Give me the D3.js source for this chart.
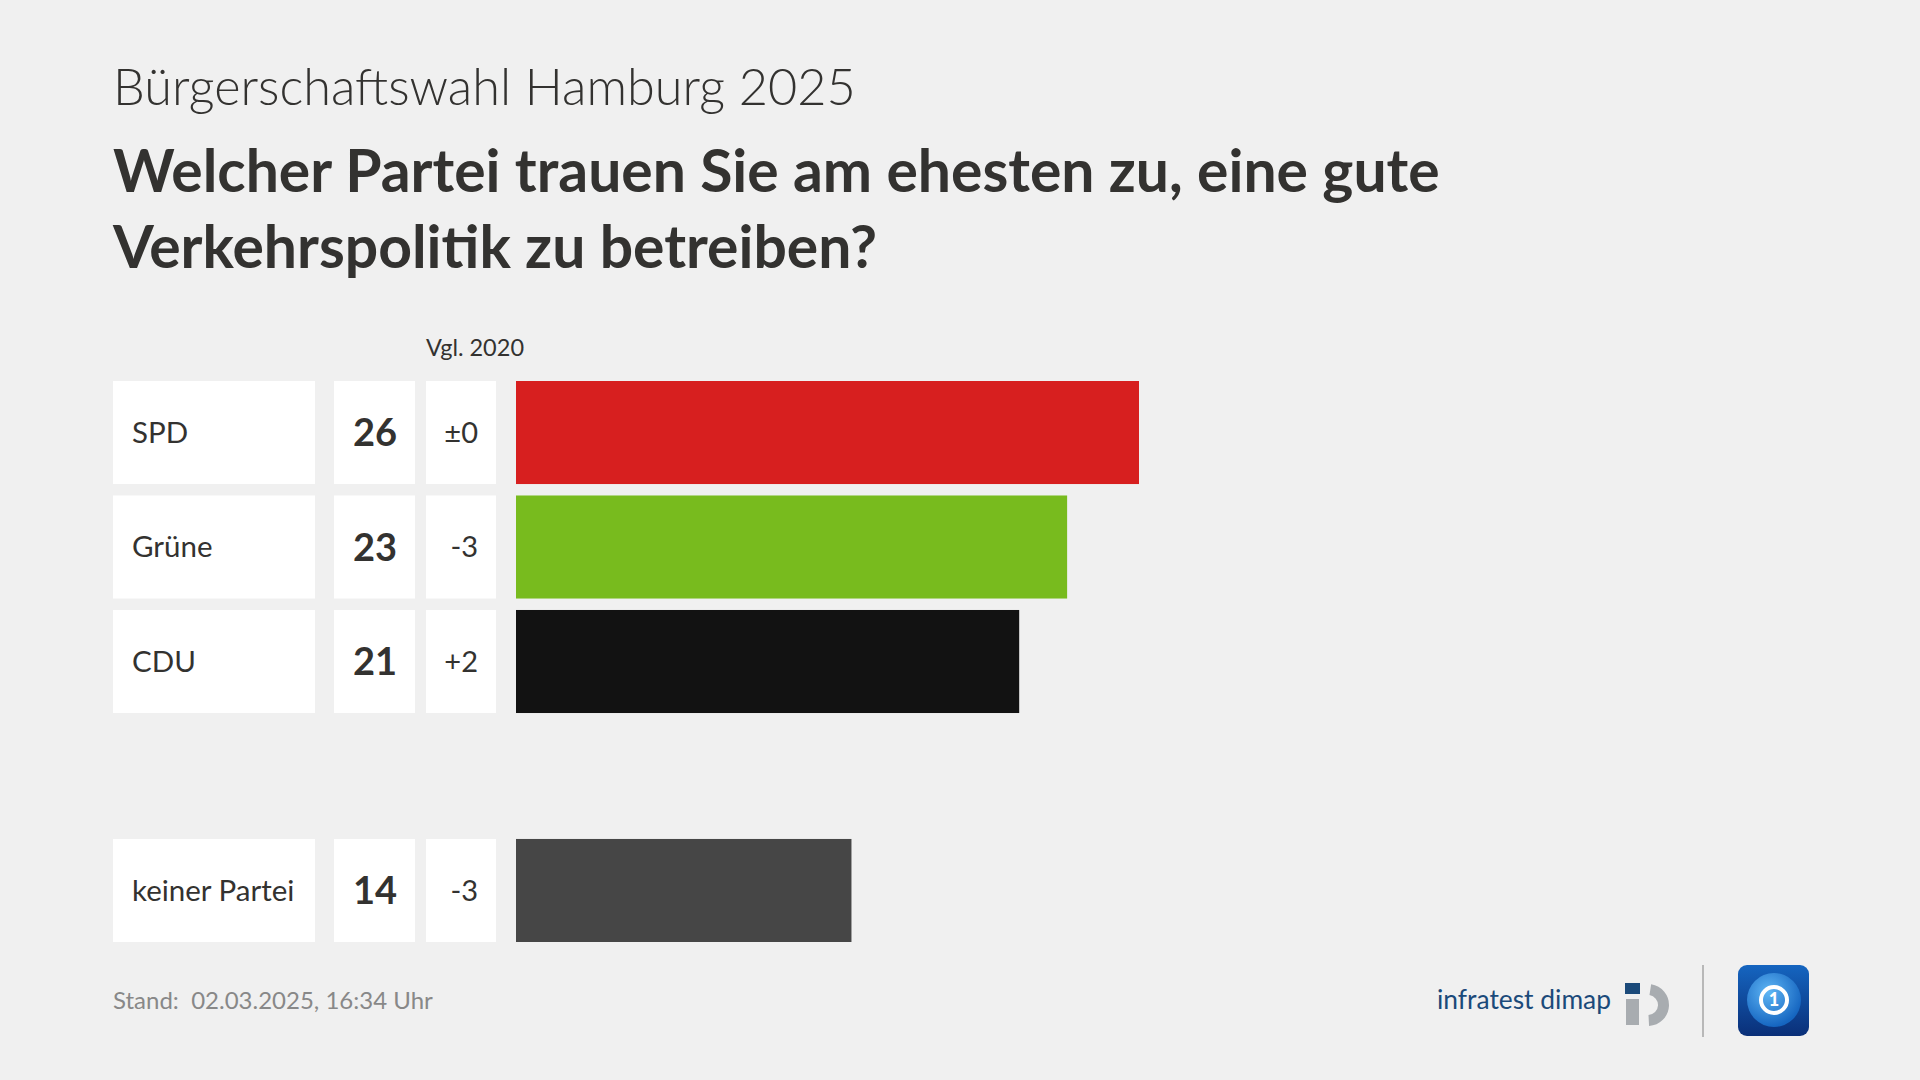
<!DOCTYPE html>
<html>
<head>
<meta charset="utf-8">
<script src="https://cdn.jsdelivr.net/npm/d3@7"></script>
<style>
  html, body { margin: 0; padding: 0; background: #f0f0f0; }
  svg { display: block; }
</style>
</head>
<body>
<svg id="chart" width="1920" height="1080"></svg>
<script>
const parties = ["SPD", "Grüne", "CDU", "keiner Partei"];
const shares = [26, 23, 21, 14];
const changes = ["±0", "-3", "+2", "-3"];
const partyColors = ["#d71f1f", "#78bb1e", "#121212", "#464646"];

const subtitle = "Bürgerschaftswahl Hamburg 2025";
const titleLines = ["Welcher Partei trauen Sie am ehesten zu, eine gute", "Verkehrspolitik zu betreiben?"];
const compareLabel = "Vgl. 2020";
const footnote = "Stand:\u00a0\u00a002.03.2025, 16:34 Uhr";

const font = "Lato, 'Noto Sans', sans-serif";
const ink = "#333230";

const svg = d3.select("#chart");
svg.append("rect").attr("width", 1920).attr("height", 1080).attr("fill", "#f0f0f0");

// fit a text element to a given width by scaling its font size
function fitWidth(sel, target) {
  const w = sel.node().getComputedTextLength();
  const s = parseFloat(sel.attr("font-size"));
  sel.attr("font-size", s * target / w);
  return s * target / w;
}

// headings
const sub = svg.append("text")
  .attr("x", 113).attr("y", 105)
  .attr("font-family", font).attr("font-weight", 300)
  .attr("font-size", 44).attr("fill", ink)
  .text(subtitle);
fitWidth(sub, 743);

let titleSize = 60;
titleLines.forEach((line, i) => {
  const t = svg.append("text")
    .attr("x", 113).attr("y", 192 + i * 76)
    .attr("font-family", font).attr("font-weight", 700)
    .attr("font-size", titleSize).attr("fill", ink)
    .text(line);
  // first line sets the size for both
  if (i === 0) titleSize = fitWidth(t, 1327);
});

// rows: a spacer slot separates "keiner Partei" from the parties
const slots = parties.slice(0, 3).concat(["_gap"], parties.slice(3));
const y = d3.scaleBand()
  .domain(slots)
  .range([381, 942])
  .paddingInner(0.1);

const x = d3.scaleLinear()
  .domain([0, d3.max(shares)])
  .range([0, 623]);

const barX = 516;

svg.append("text")
  .attr("x", 426).attr("y", 356)
  .attr("font-family", font).attr("font-size", 23.5).attr("fill", ink)
  .text(compareLabel);

const rows = svg.append("g").selectAll("g")
  .data(parties.map((p, i) => ({ party: p, share: shares[i], change: changes[i], color: partyColors[i] })))
  .join("g")
  .attr("transform", d => `translate(0,${y(d.party)})`);

const h = y.bandwidth();

rows.append("rect").attr("x", 113).attr("width", 202).attr("height", h).attr("fill", "#fff");
rows.append("rect").attr("x", 334).attr("width", 81).attr("height", h).attr("fill", "#fff");
rows.append("rect").attr("x", 426).attr("width", 70).attr("height", h).attr("fill", "#fff");

rows.append("text")
  .attr("x", 132).attr("y", h / 2).attr("dy", "0.35em")
  .attr("font-family", font).attr("font-size", 29.5).attr("fill", ink)
  .text(d => d.party);

rows.append("text")
  .attr("x", 375).attr("y", h / 2).attr("dy", "0.36em")
  .attr("text-anchor", "middle")
  .attr("font-family", font).attr("font-weight", 700).attr("font-size", 38).attr("fill", ink)
  .text(d => d.share);

rows.append("text")
  .attr("x", 478).attr("y", h / 2).attr("dy", "0.35em")
  .attr("text-anchor", "end")
  .attr("font-family", font).attr("font-size", 29).attr("fill", ink)
  .text(d => d.change);

rows.append("rect")
  .attr("x", barX)
  .attr("width", d => x(d.share))
  .attr("height", h)
  .attr("fill", d => d.color);

// footer
svg.append("text")
  .attr("x", 113).attr("y", 1009)
  .attr("font-family", font).attr("font-size", 24).attr("fill", "#888")
  .text(footnote);

// infratest dimap mark
const logo = svg.append("text")
  .attr("x", 1437).attr("y", 1009)
  .attr("font-family", font).attr("font-size", 30).attr("fill", "#1b4a7a")
  .text("infratest dimap");
fitWidth(logo, 174);

svg.append("rect").attr("x", 1625).attr("y", 983).attr("width", 15).attr("height", 11).attr("fill", "#1b4a7a");
svg.append("rect").attr("x", 1626).attr("y", 999).attr("width", 13).attr("height", 26).attr("fill", "#a8acb0");
svg.append("path")
  .attr("transform", "translate(1648,1005)")
  .attr("d", d3.arc().innerRadius(10).outerRadius(21).startAngle(0.15).endAngle(Math.PI - 0.05)())
  .attr("fill", "#a8acb0");

svg.append("line")
  .attr("x1", 1703).attr("x2", 1703).attr("y1", 965).attr("y2", 1037)
  .attr("stroke", "#b8b8b8").attr("stroke-width", 2);

// tagesschau-style badge
const defs = svg.append("defs");
const grad = defs.append("linearGradient").attr("id", "badge").attr("x1", 0).attr("y1", 0).attr("x2", 0).attr("y2", 1);
grad.append("stop").attr("offset", "0%").attr("stop-color", "#1565c0");
grad.append("stop").attr("offset", "100%").attr("stop-color", "#0a2f78");
const glob = defs.append("radialGradient").attr("id", "globe").attr("cx", "40%").attr("cy", "35%").attr("r", "65%");
glob.append("stop").attr("offset", "0%").attr("stop-color", "#5fb6f5");
glob.append("stop").attr("offset", "100%").attr("stop-color", "#1565c0");

const badge = svg.append("g").attr("transform", "translate(1738,965)");
badge.append("rect").attr("width", 71).attr("height", 71).attr("rx", 9).attr("fill", "url(#badge)");
badge.append("circle").attr("cx", 36).attr("cy", 35).attr("r", 27).attr("fill", "url(#globe)");
badge.append("circle").attr("cx", 36).attr("cy", 35).attr("r", 13).attr("fill", "none").attr("stroke", "#fff").attr("stroke-width", 4);
badge.append("text")
  .attr("x", 36).attr("y", 35).attr("dy", "0.36em").attr("text-anchor", "middle")
  .attr("font-family", font).attr("font-weight", 900).attr("font-size", 18).attr("fill", "#fff")
  .text("1");
</script>
</body>
</html>
